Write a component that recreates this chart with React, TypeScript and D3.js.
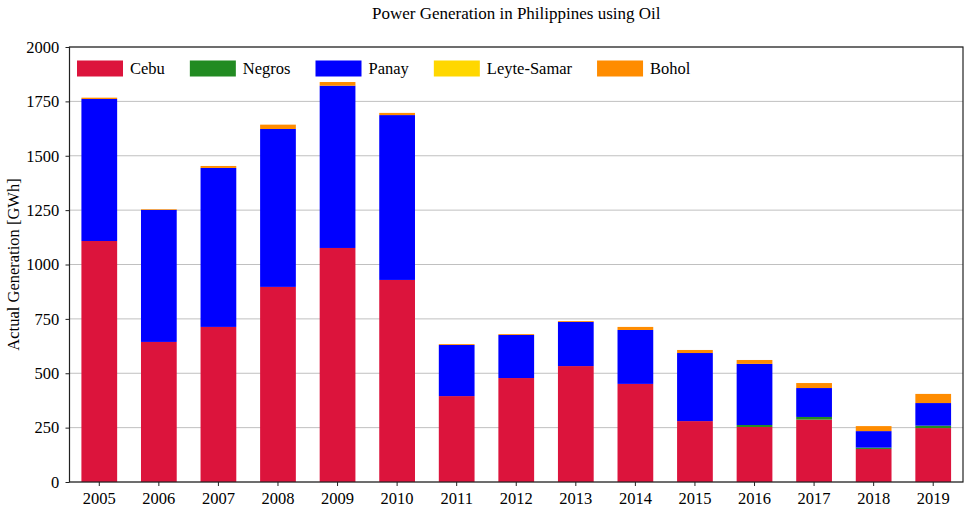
import React, { useEffect, useRef } from "react";
import * as d3 from "d3";

const years = ["2005","2006","2007","2008","2009","2010","2011","2012","2013","2014","2015","2016","2017","2018","2019"];
const seriesNames = ["Cebu", "Negros", "Panay", "Leyte-Samar", "Bohol"];
const cebu = [1108, 644, 713, 897, 1076, 929, 395, 478, 533, 451, 280, 253, 287, 152, 248];
const negros = [0, 0, 0, 0, 0, 0, 0, 0, 0, 0, 0, 9, 12, 6, 11];
const panay = [653, 607, 731, 726, 746, 758, 235, 198, 203, 248, 313, 281, 133, 76, 104];
const leyteSamar = [0, 0, 0, 0, 0, 0, 0, 0, 0, 0, 0, 0, 0, 0, 0];
const bohol = [6, 3, 9, 20, 17, 10, 4, 4, 4, 14, 14, 18, 23, 23, 42];
const yTicks = [0, 250, 500, 750, 1000, 1250, 1500, 1750, 2000];
const colors = ["#dc143c", "#228b22", "#0000ff", "#ffd700", "#ff8c00"];

const W = 969, H = 512;
const M = { left: 69.5, right: 6, top: 47, bottom: 30 };
const FONT = "'Liberation Serif', 'DejaVu Serif', serif";

export default function App() {
  const ref = useRef<SVGSVGElement>(null);
  useEffect(() => {
    const svg = d3.select(ref.current);
    svg.selectAll("*").remove();
    const data = years.map((y, i) => ({
      year: y, Cebu: cebu[i], Negros: negros[i], Panay: panay[i], "Leyte-Samar": leyteSamar[i], Bohol: bohol[i],
    }));
    const x = d3.scaleBand().domain(years).range([M.left, W - M.right]).paddingInner(0.4).paddingOuter(0.2);
    const y = d3.scaleLinear().domain([0, 2000]).range([H - M.bottom, M.top]);
    const stack = d3.stack<any>().keys(seriesNames)(data);

    // grid
    svg.append("g").selectAll("line").data(yTicks).join("line")
      .attr("x1", M.left).attr("x2", W - M.right)
      .attr("y1", d => y(d)).attr("y2", d => y(d))
      .attr("stroke", "#c0c0c0").attr("stroke-width", 1);

    // bars
    svg.append("g").selectAll("g").data(stack).join("g")
      .attr("fill", (_d, i) => colors[i])
      .selectAll("rect").data(d => d).join("rect")
      .attr("x", d => x(d.data.year)!)
      .attr("width", x.bandwidth())
      .attr("y", d => y(d[1]))
      .attr("height", d => Math.max(0, y(d[0]) - y(d[1])));

    // frame
    svg.append("rect").attr("x", M.left).attr("y", M.top)
      .attr("width", W - M.right - M.left).attr("height", H - M.bottom - M.top)
      .attr("fill", "none").attr("stroke", "#222").attr("stroke-width", 1.2);

    // axes
    const xAxis = svg.append("g").attr("transform", `translate(0,${H - M.bottom})`)
      .call(d3.axisBottom(x).tickSize(4).tickSizeOuter(0));
    const yAxis = svg.append("g").attr("transform", `translate(${M.left},0)`)
      .call(d3.axisLeft(y).tickValues(yTicks).tickFormat(d3.format("d")).tickSize(4).tickSizeOuter(0));
    [xAxis, yAxis].forEach(a => {
      a.select(".domain").remove();
      a.selectAll("line").attr("stroke", "#222");
      a.selectAll("text").attr("font-family", FONT).attr("font-size", 16.5).attr("fill", "#000");
    });
    xAxis.selectAll("text").attr("dy", "0.9em");
    yAxis.selectAll("text").attr("dx", "-0.2em");

    // title
    svg.append("text").attr("x", (M.left + W - M.right) / 2).attr("y", 19)
      .attr("text-anchor", "middle").attr("font-family", FONT).attr("font-size", 17)
      .text("Power Generation in Philippines using Oil");

    // y label
    svg.append("text").attr("transform", `translate(19,${(M.top + H - M.bottom) / 2}) rotate(-90)`)
      .attr("text-anchor", "middle").attr("font-family", FONT).attr("font-size", 16.5)
      .text("Actual Generation [GWh]");

    // legend
    const lg = svg.append("g");
    let lx = 77;
    seriesNames.forEach((name, i) => {
      lg.append("rect").attr("x", lx).attr("y", 60.5).attr("width", 46).attr("height", 16).attr("fill", colors[i]);
      const t = lg.append("text").attr("x", lx + 53).attr("y", 74)
        .attr("font-family", FONT).attr("font-size", 16.5).text(name);
      const len = (t.node() as SVGTextElement).getComputedTextLength();
      lx = lx + 53 + len + 25;
    });
  }, []);
  return <svg ref={ref} width={W} height={H} style={{ display: "block", position: "absolute", left: 0, top: 0, background: "#fff" }} />;
}
